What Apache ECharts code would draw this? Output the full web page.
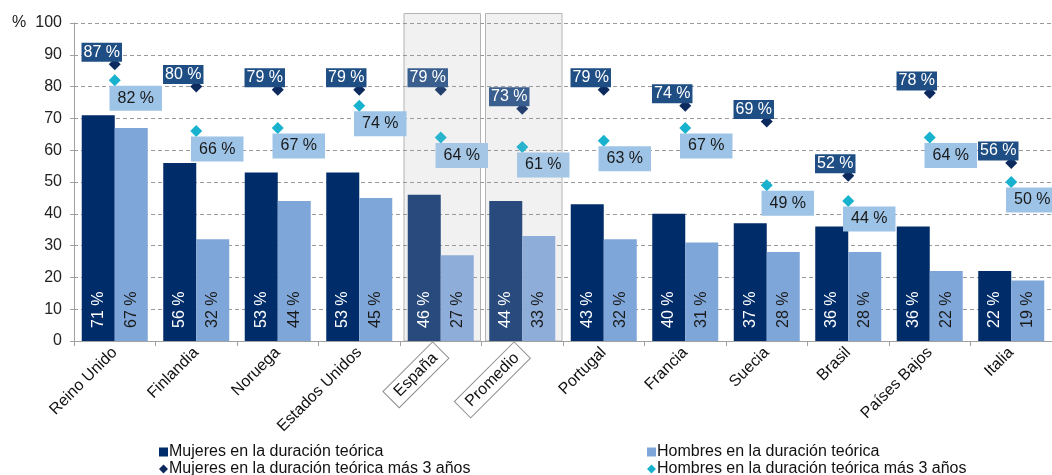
<!DOCTYPE html>
<html>
<head>
<meta charset="utf-8">
<script src="https://cdn.jsdelivr.net/npm/echarts@6/dist/echarts.min.js"></script>
<style>
html, body { margin: 0; padding: 0; background: #fff; }
#chart { width: 1052px; height: 475px; }
</style>
</head>
<body>
<div id="chart"></div>
<script>
// datos
const categories = ['Reino Unido', 'Finlandia', 'Noruega', 'Estados Unidos', 'España', 'Promedio',
    'Portugal', 'Francia', 'Suecia', 'Brasil', 'Países Bajos', 'Italia'];
const mujeresTeorica = [71, 56, 53, 53, 46, 44, 43, 40, 37, 36, 36, 22];
const hombresTeorica = [67, 32, 44, 45, 27, 33, 32, 31, 28, 28, 22, 19];
const mujeresMas3 = [87, 80, 79, 79, 79, 73, 79, 74, 69, 52, 78, 56];
const hombresMas3 = [82, 66, 67, 74, 64, 61, 63, 67, 49, 44, 64, 50];
const yTicks = [0, 10, 20, 30, 40, 50, 60, 70, 80, 90, 100];
const highlighted = ['España', 'Promedio'];

const FONT = 'Liberation Sans, Arial, sans-serif';
const names = {
    mBar: 'Mujeres en la duración teórica',
    hBar: 'Hombres en la duración teórica',
    mDot: 'Mujeres en la duración teórica más 3 años',
    hDot: 'Hombres en la duración teórica más 3 años'
};

function isHl(i) {
    return highlighted.indexOf(categories[i]) !== -1;
}

function withHighlight(values, hl) {
    return values.map((v, i) => isHl(i) ? Object.assign({value: v}, hl) : v);
}

const xData = categories.map(c => highlighted.indexOf(c) !== -1 ? {
    value: c,
    textStyle: {borderColor: '#8c8c8c', borderWidth: 1, padding: [4, 8, 3, 8]}
} : c);

const hlBoxes = categories.map((c, i) => [i, 103]).filter((d, i) => isHl(i));

function legendBlock(left, items) {
    return {
        left: left, top: 439, height: 40, orient: 'vertical', itemGap: 1,
        itemWidth: 9, itemHeight: 9,
        textStyle: {fontSize: 16, lineHeight: 16, color: '#111', fontFamily: FONT, padding: [0, 0, 0, -4]},
        data: items
    };
}

const chart = echarts.init(document.getElementById('chart'));
const option = {
    animation: false,
    textStyle: {fontFamily: FONT},
    grid: {left: 74, right: -8, top: 23, bottom: 134, containLabel: false},
    graphic: [{
        type: 'text', left: 12, top: 15,
        style: {text: '%', font: '16px ' + FONT, fill: '#222'}
    }],
    legend: [
        legendBlock(154, [{name: names.mBar, icon: 'rect'}, {name: names.mDot, icon: 'diamond'}]),
        legendBlock(642, [{name: names.hBar, icon: 'rect'}, {name: names.hDot, icon: 'diamond'}])
    ],
    xAxis: {
        type: 'category',
        data: xData,
        axisLine: {lineStyle: {color: '#a0a0a0'}},
        axisTick: {show: true, length: 5, lineStyle: {color: '#a0a0a0'}},
        axisLabel: {rotate: 45, margin: 9, fontSize: 16, color: '#111', fontFamily: FONT, interval: 0}
    },
    yAxis: {
        type: 'value',
        min: yTicks[0], max: yTicks[yTicks.length - 1], interval: 10,
        axisLine: {show: true, lineStyle: {color: '#a0a0a0'}},
        axisTick: {show: true, length: 4, lineStyle: {color: '#a0a0a0'}},
        axisLabel: {fontSize: 16, color: '#222', margin: 12, fontFamily: FONT},
        splitLine: {lineStyle: {color: '#9a9a9a', type: [4, 3]}}
    },
    series: [{
        type: 'custom',
        z: -1,
        silent: true,
        data: hlBoxes,
        renderItem: function (params, api) {
            const top = api.coord([api.value(0), api.value(1)]);
            const bottom = api.coord([api.value(0), 0]);
            const w = api.size([1, 0])[0];
            return {
                type: 'rect',
                shape: {x: top[0] - w / 2 + 4, y: top[1], width: w - 5, height: bottom[1] - top[1]},
                style: {fill: '#f1f1f1', stroke: '#b4b4b4', lineWidth: 1}
            };
        }
    }, {
        name: names.mBar,
        type: 'bar',
        barWidth: 33,
        barGap: '0%',
        itemStyle: {color: '#002d6a'},
        data: withHighlight(mujeresTeorica, {itemStyle: {color: '#284a7c'}}),
        label: {
            show: true, position: 'insideBottom', rotate: 90, align: 'left', verticalAlign: 'middle',
            distance: 13, fontSize: 16, color: '#fff', fontFamily: FONT,
            formatter: p => p.value + ' %'
        }
    }, {
        name: names.hBar,
        type: 'bar',
        barWidth: 33,
        itemStyle: {color: '#7fa6d8'},
        data: withHighlight(hombresTeorica, {itemStyle: {color: '#8eadd8'}}),
        label: {
            show: true, position: 'insideBottom', rotate: 90, align: 'left', verticalAlign: 'middle',
            distance: 13, fontSize: 16, color: '#1a1a1a', fontFamily: FONT,
            formatter: p => p.value + ' %'
        }
    }, {
        name: names.mDot,
        type: 'scatter',
        symbol: 'diamond',
        symbolSize: 12,
        itemStyle: {color: '#0c2a5e', opacity: 1},
        data: withHighlight(mujeresMas3, {
            itemStyle: {color: '#243f6e', opacity: 1},
            label: {backgroundColor: '#3a5f8e'}
        }),
        label: {
            show: true, position: 'inside', offset: [-13, -12],
            backgroundColor: '#1f4e85', color: '#fff', padding: [2, 2, 1, 2],
            fontSize: 16, fontFamily: FONT,
            formatter: p => p.value + ' %'
        }
    }, {
        name: names.hDot,
        type: 'scatter',
        symbol: 'diamond',
        symbolSize: 12,
        itemStyle: {color: '#18b2cf', opacity: 1},
        data: withHighlight(hombresMas3, {
            itemStyle: {color: '#2ab3cc', opacity: 1},
            label: {backgroundColor: '#a6c6e6'}
        }),
        label: {
            show: true, position: 'inside', offset: [21, 18],
            backgroundColor: '#9dc3e6', color: '#1a1a1a', padding: [5, 8, 4, 8],
            fontSize: 16, fontFamily: FONT,
            formatter: p => p.value + ' %'
        }
    }]
};
chart.setOption(option);
</script>
</body>
</html>
